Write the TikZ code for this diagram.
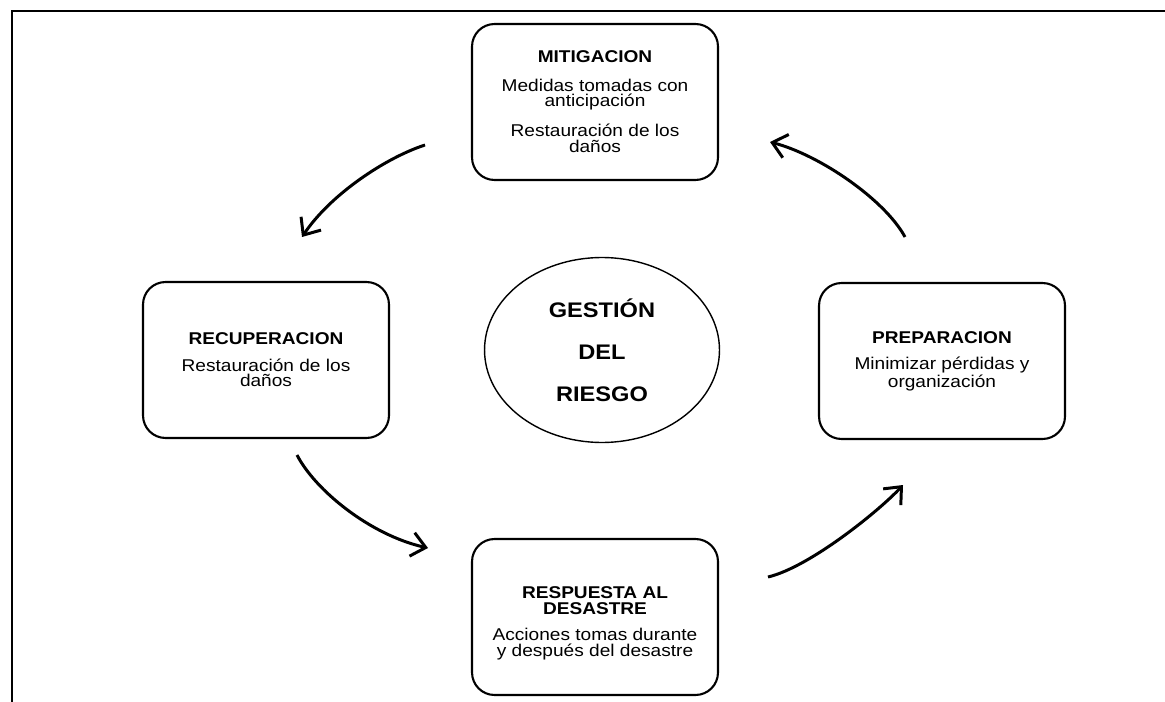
\documentclass[tikz,border=0pt]{standalone}
\usepackage{fontspec}
\setmainfont[FakeStretch=1.12]{Liberation Sans}
\usetikzlibrary{shapes.geometric, arrows.meta}

\begin{document}
\begin{tikzpicture}[
    x=0.02cm, y=-0.02cm,
    block/.style = {rectangle, draw, line width=1.2pt, rounded corners=0.45cm, minimum width=4.92cm, minimum height=3.12cm, inner sep=0pt, align=center, font=\fontsize{9.7}{9}\selectfont},
    hub/.style = {ellipse, draw, line width=0.8pt, minimum width=4.7cm, minimum height=3.7cm, inner sep=0pt, align=center, font=\fontsize{12}{24}\selectfont\bfseries},
    arrow/.style = {line width=1.7pt, -{Straight Barb[length=2.8mm,width=4.8mm]}}
]
    \useasboundingbox (0,0) rectangle (1165,702);

    % page frame
    \draw[line width=1.1pt] (12,702) -- (12,11) -- (1165,11);

    % Central idea
    \node[hub] (risk) at (602,350) {GESTIÓN\\DEL\\RIESGO};

    % Phases of the cycle
    \node[block] (mit) at (595,102) {\textbf{MITIGACION}\\[7pt]Medidas tomadas con\\anticipación\\[7pt]Restauración de los\\daños};
    \node[block] (rec) at (266,360) {\textbf{RECUPERACION}\\[6pt]Restauración de los\\daños};
    \node[block] (prep) at (942,361) {\textbf{PREPARACION}\\[6pt]Minimizar pérdidas y\\organización};
    \node[block] (resp) at (595,617) {\mbox{}\\[5pt]\textbf{RESPUESTA AL}\\\textbf{DESASTRE}\\[6pt]Acciones tomas durante\\y después del desastre};

    % Arrow ends
    \coordinate (mit-out) at (425,145);
    \coordinate (rec-in) at (302,237);
    \coordinate (rec-out) at (297,455);
    \coordinate (resp-in) at (428,548);
    \coordinate (resp-out) at (768,577);
    \coordinate (prep-in) at (903,485);
    \coordinate (prep-out) at (905,237);
    \coordinate (mit-in) at (770,142);

    % Cycle arrows
    \draw[arrow] (mit-out) .. controls (385,158) and (330,195) .. (rec-in);
    \draw[arrow] (rec-out) .. controls (315,490) and (370,535) .. (resp-in);
    \draw[arrow] (resp-out) .. controls (810,567) and (880,510) .. (prep-in);
    \draw[arrow] (prep-out) .. controls (885,200) and (820,155) .. (mit-in);
\end{tikzpicture}
\end{document}
